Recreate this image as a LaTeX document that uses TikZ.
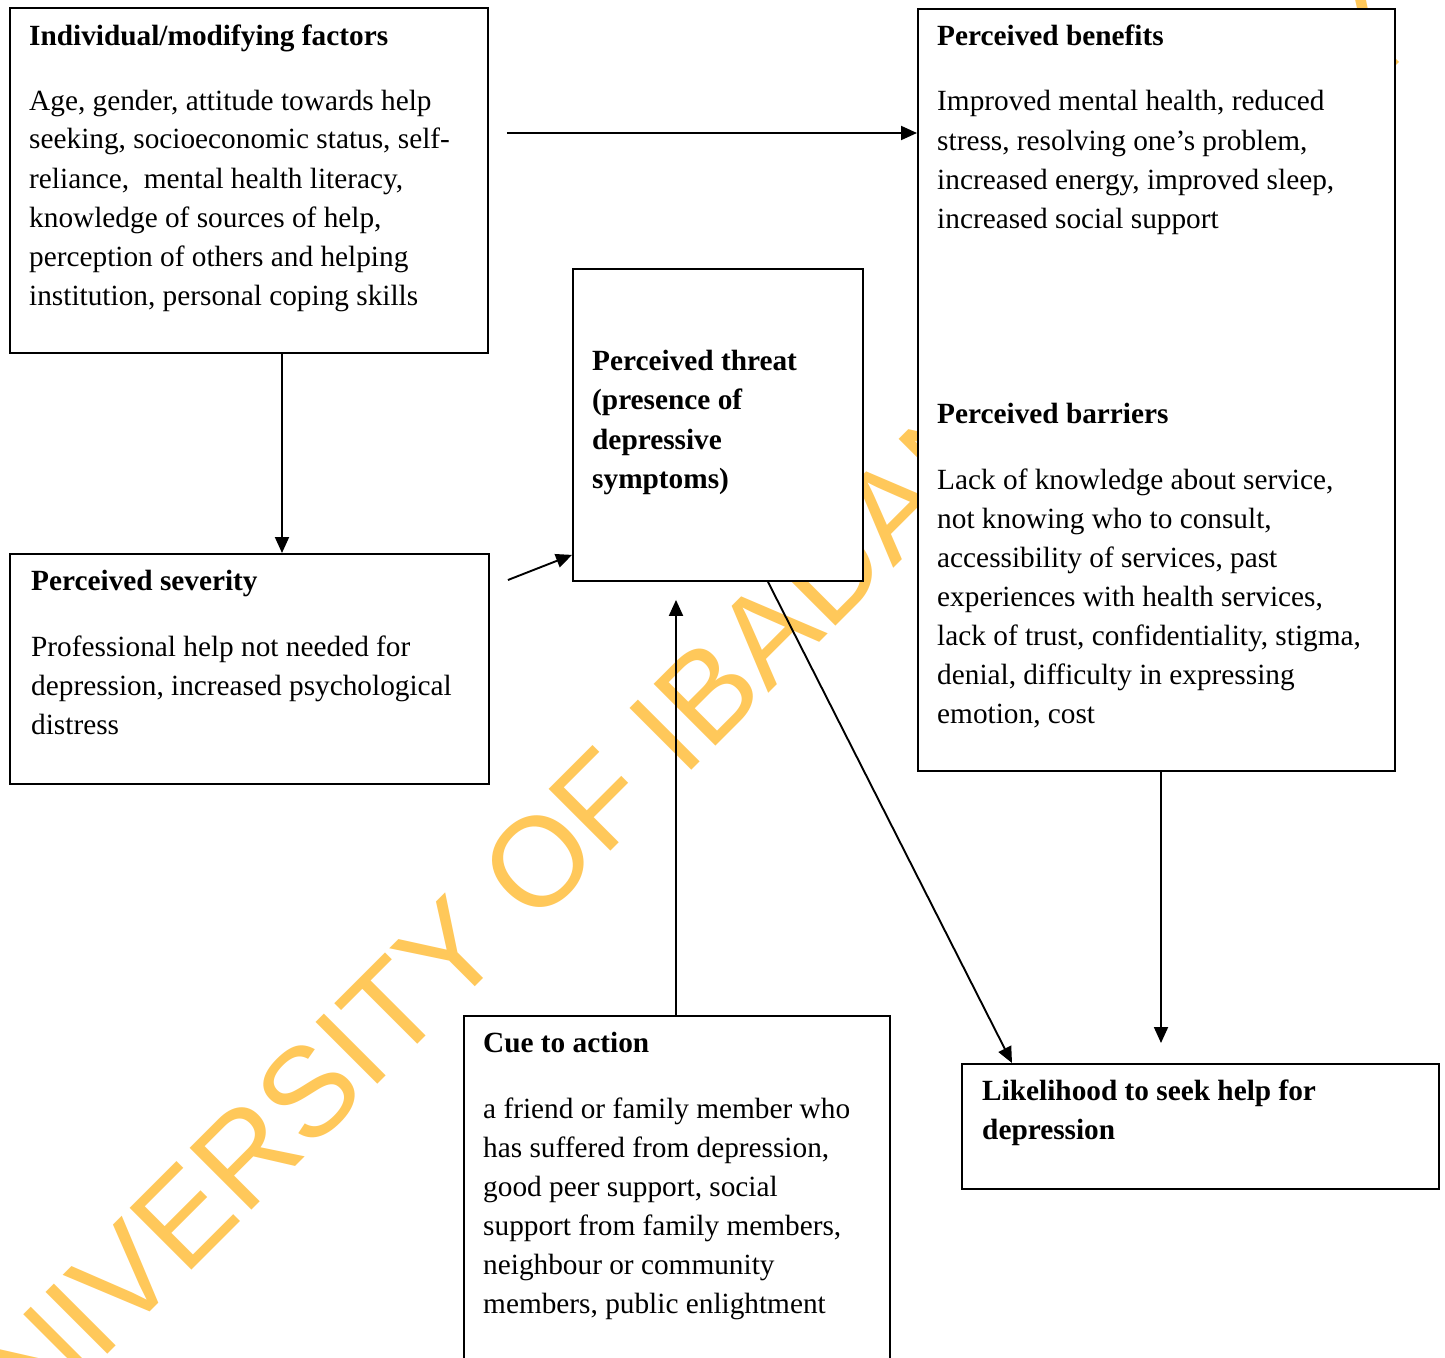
\documentclass[tikz,border=0pt]{standalone}
\usepackage{fontspec}
\setmainfont{Liberation Serif}
\newfontfamily\stampfont{Liberation Sans}
\usetikzlibrary{arrows.meta}
\definecolor{stamporange}{RGB}{255,200,90}

\begin{document}
\begin{tikzpicture}[
        x=1pt, y=-1pt,
        hbmbox/.style={
            draw,
            line width=1.9pt,
            fill=white,
            inner sep=0pt,
            anchor=north west
        },
        boxtext/.style={
            anchor=base west,
            inner sep=0pt,
            text width=440pt,
            align=flush left,
            font=\fontsize{29.3}{39}\selectfont
        },
        boxtitle/.style={
            boxtext,
            font=\fontsize{29.3}{39.6}\selectfont\bfseries
        },
        flowarrow/.style={
            -{Triangle[length=16pt, width=14pt]},
            line width=1.9pt
        },
        stamp/.style={
            stamporange,
            font=\stampfont\fontsize{127}{127}\selectfont,
            rotate=45,
            anchor=base,
            inner sep=0pt
        }
    ]

        \path[use as bounding box, fill=white] (0,0) rectangle (1445,1357);

        % ---------------------------------------------------------------------
        % Library stamp behind the boxes
        % ---------------------------------------------------------------------

        \node[stamp] (stamp) at (698,764) {UNIVERSITY OF IBADAN LIBRARY};

        % ---------------------------------------------------------------------
        % Boxes
        % ---------------------------------------------------------------------

        \node[hbmbox, minimum width=478pt, minimum height=345pt]
            (indiv) at (9,7) {};
        \node[hbmbox, minimum width=477pt, minimum height=762pt]
            (benefits) at (917,8) {};
        \node[hbmbox, minimum width=290pt, minimum height=312pt]
            (threat) at (572,268) {};
        \node[hbmbox, minimum width=479pt, minimum height=230pt]
            (severity) at (9,553) {};
        \node[hbmbox, minimum width=426pt, minimum height=400pt]
            (cue) at (463,1015) {};
        \node[hbmbox, minimum width=477pt, minimum height=125pt]
            (likelihood) at (961,1063) {};

        % ---------------------------------------------------------------------
        % Box texts
        % ---------------------------------------------------------------------

        \node[boxtext] (indivtext) at ([shift={(20,38)}]indiv.north west) {
            \textbf{Individual/modifying factors}\\[26pt]
            Age, gender, attitude towards help\\
            seeking, socioeconomic status, self-\\
            reliance,\ \ mental health literacy,\\
            knowledge of sources of help,\\
            perception of others and helping\\
            institution, personal coping skills
        };

        \node[boxtext] (benefitstext) at ([shift={(20,37)}]benefits.north west) {
            \textbf{Perceived benefits}\\[27pt]
            Improved mental health, reduced\\
            stress, resolving one’s problem,\\
            increased energy, improved sleep,\\
            increased social support
        };

        \node[boxtext] (barrierstext) at ([shift={(20,415)}]benefits.north west) {
            \textbf{Perceived barriers}\\[27pt]
            Lack of knowledge about service,\\
            not knowing who to consult,\\
            accessibility of services, past\\
            experiences with health services,\\
            lack of trust, confidentiality, stigma,\\
            denial, difficulty in expressing\\
            emotion, cost
        };

        \node[boxtitle] (threattext) at ([shift={(20,102)}]threat.north west) {
            Perceived threat\\
            (presence of\\
            depressive\\
            symptoms)
        };

        \node[boxtext] (severitytext) at ([shift={(22,37)}]severity.north west) {
            \textbf{Perceived severity}\\[27pt]
            Professional help not needed for\\
            depression, increased psychological\\
            distress
        };

        \node[boxtext] (cuetext) at ([shift={(20,37)}]cue.north west) {
            \textbf{Cue to action}\\[27pt]
            a friend or family member who\\
            has suffered from depression,\\
            good peer support, social\\
            support from family members,\\
            neighbour or community\\
            members, public enlightment
        };

        \node[boxtitle] (likelihoodtext) at ([shift={(21,37)}]likelihood.north west) {
            Likelihood to seek help for\\
            depression
        };

        % ---------------------------------------------------------------------
        % Arrows
        % ---------------------------------------------------------------------

        \coordinate (indivout) at ([shift={(18,126)}]indiv.north east);
        \coordinate (severityout) at ([shift={(18,27)}]severity.north east);

        \draw[flowarrow]
            (indivout) -- ([yshift=-125pt]benefits.north west);

        \draw[flowarrow]
            ([xshift=273pt]indiv.south west)
            --
            ([xshift=273pt]severity.north west);

        \draw[flowarrow]
            (severityout) -- ([yshift=27pt]threat.south west);

        \draw[flowarrow]
            ([xshift=213pt]cue.north west)
            --
            ([shift={(104,18)}]threat.south west);

        \draw[flowarrow]
            ([xshift=196pt]threat.south west)
            --
            ([xshift=51pt]likelihood.north west);

        \draw[flowarrow]
            ([xshift=244pt]benefits.south west)
            --
            ([shift={(200,-20)}]likelihood.north west);

    \end{tikzpicture}
\end{document}
